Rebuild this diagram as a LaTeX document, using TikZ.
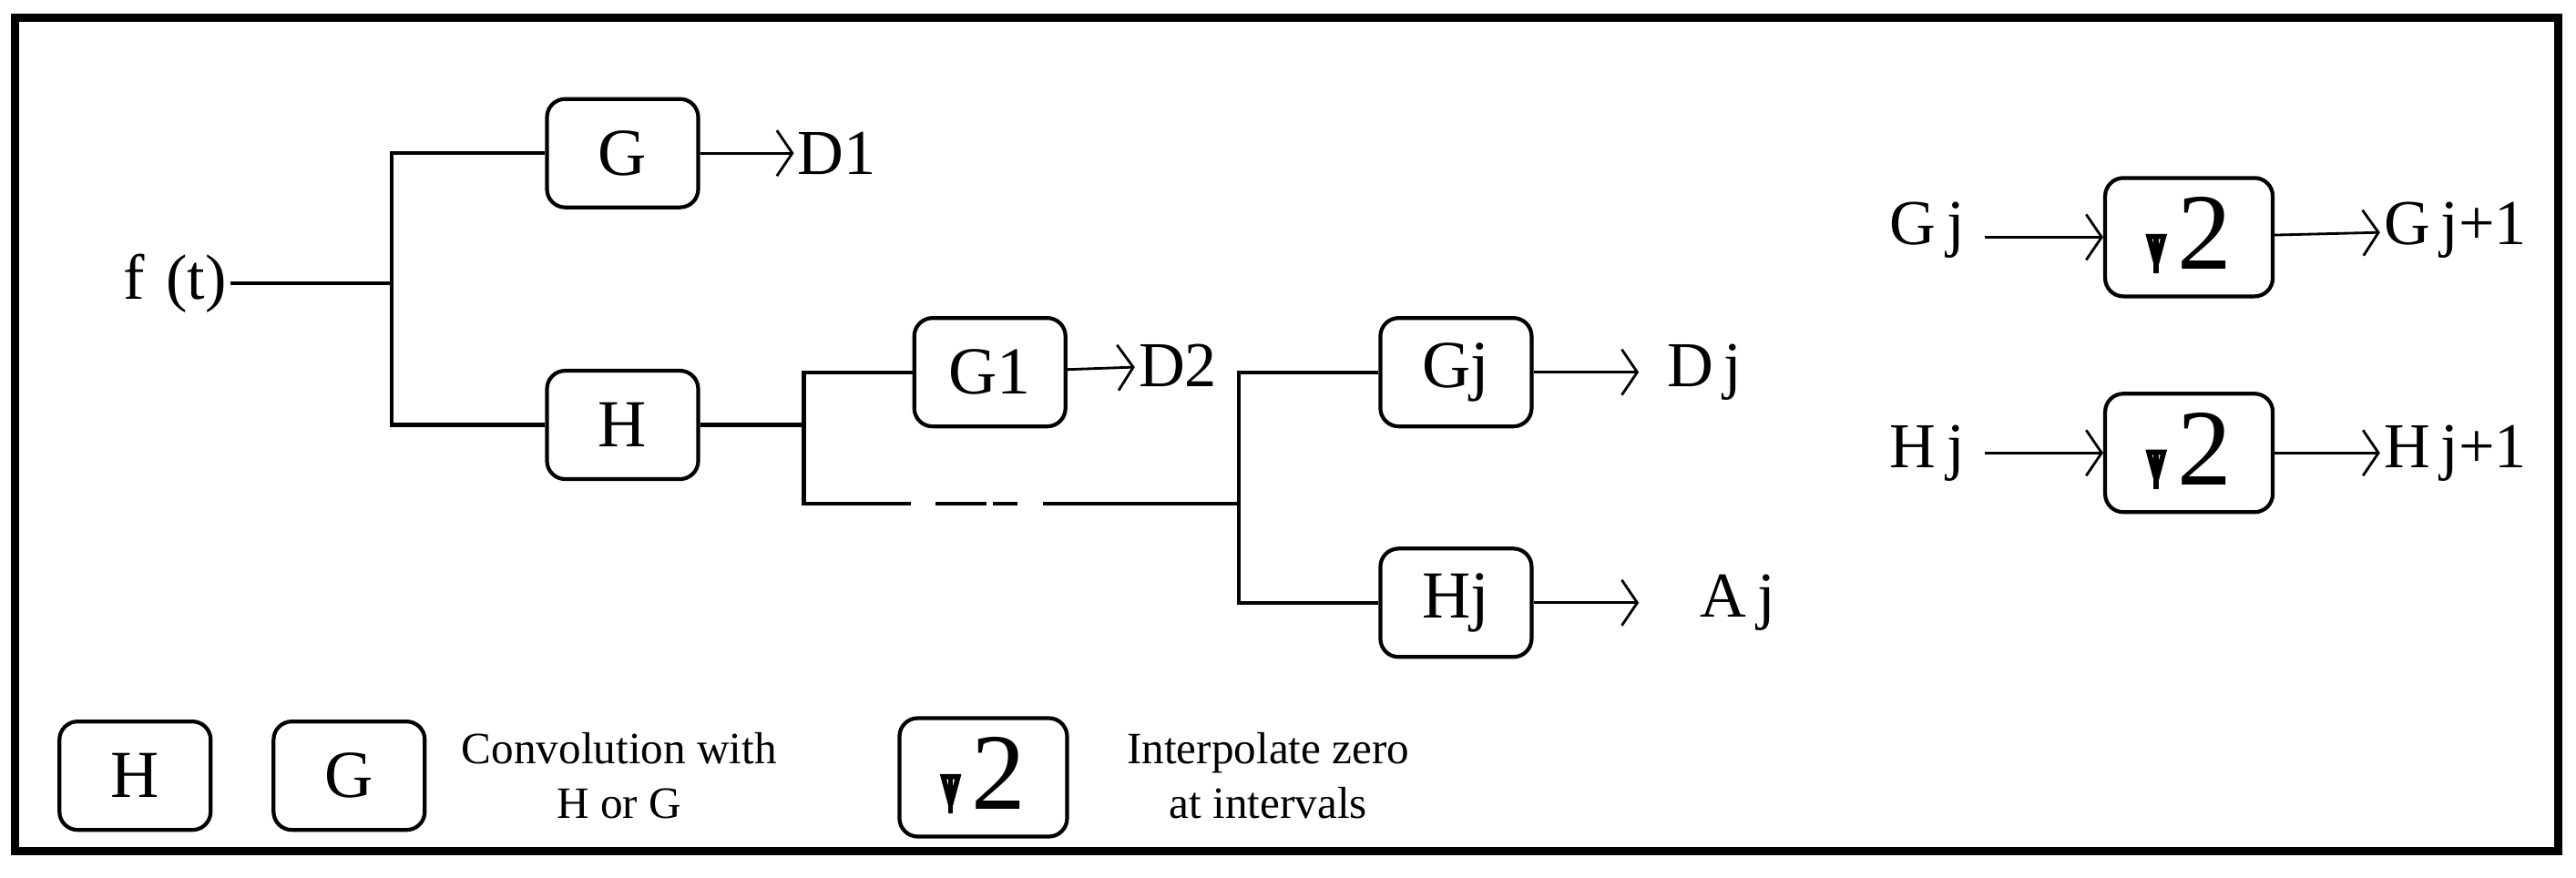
\documentclass[tikz,border=0pt]{standalone}
\usepackage{fontspec}
\setmainfont{Liberation Serif}
\usetikzlibrary{arrows.meta}
\tikzset{
  blk/.style={draw, line width=1.2pt, rounded corners=0.2cm, minimum width=1.66cm, minimum height=1.19cm, font=\fontsize{21}{24}\selectfont, inner sep=0pt},
  upblk/.style={blk, minimum width=1.84cm, minimum height=1.3cm},
  lbl/.style={font=\fontsize{20}{24}\selectfont, inner sep=1pt},
  note/.style={font=\fontsize{14}{17}\selectfont, align=center},
  wire/.style={line width=1.2pt},
  outarr/.style={line width=0.8pt, -{Straight Barb[length=0.17cm, width=0.5cm, line width=0.8pt]}}
}
\newcommand{\uparr}{\tikz[baseline=0.05cm]\draw[line width=1.6pt, -{Triangle[open, length=0.45cm, width=0.22cm, line width=1.6pt]}] (0,0) -- (0,0.85);}
\newcommand{\uptwo}{\uparr\hspace{0.12cm}{\fontsize{34}{36}\selectfont 2}}

\begin{document}
\begin{tikzpicture}[x=0.01808cm, y=-0.01808cm]

    % frame
    \useasboundingbox (0,0) rectangle (1564,533);
    \draw[line width=2.6pt] (9,11) rectangle (1553,517);

    % nodes
    \node[lbl, anchor=east] (f) at (140,172) {f\,\,(t)};
    \coordinate (s1) at (238,172);
    \node[blk] (g) at (378,93) {G};
    \node[blk] (h) at (378,258) {H};
    \node[lbl, anchor=west] (d1) at (482,93) {D1};
    \coordinate (s2) at (488,258);
    \node[blk] (g1) at (601,226) {G1};
    \node[lbl, anchor=west] (d2) at (689,222) {D2};
    \coordinate (s3) at (752,306);
    \node[blk] (gj) at (884,226) {Gj};
    \node[blk] (hj) at (884,366) {Hj};
    \node[lbl, anchor=west] (dj) at (1010,226) {D\,j};
    \node[lbl, anchor=west] (aj) at (1030,366) {A\,j};
    \coordinate (dje) at (995,226);
    \coordinate (aje) at (995,366);

    % upsampling
    \node[lbl] (gin) at (1170,140) {G\,j};
    \coordinate (gi) at (1205,144);
    \node[upblk] (upg) at (1329,144) {\uptwo};
    \node[lbl, anchor=west] (gout) at (1445,140) {G\,j+1};
    \node[lbl] (hin) at (1170,275) {H\,j};
    \coordinate (hi) at (1205,275);
    \node[upblk] (uph) at (1329,275) {\uptwo};
    \node[lbl, anchor=west] (hout) at (1445,275) {H\,j+1};

    % legend
    \node[blk] (lh) at (82,471) {H};
    \node[blk] (lg) at (212,471) {G};
    \node[note] (conv) at (376,471) {Convolution with\\H or G};
    \node[upblk] (lup) at (597,472) {\uptwo};
    \node[note] (intp) at (770,471) {Interpolate zero\\at intervals};

    % edges
    \draw[wire] (f) -- (s1);
    \draw[wire] (g.west) -| (s1) |- (h.west);
    \draw[outarr] (g) -- (d1);
    \draw[wire] (h) -- (s2);
    \draw[wire] (g1.west) -| (s2) |- (553,306);
    \draw[wire, dash pattern=on 16 off 2] (568,306) -- (618,306);
    \draw[wire] (633,306) -- (s3);
    \draw[outarr] (g1) -- (d2);
    \draw[wire] (gj.west) -| (s3) |- (hj.west);
    \draw[outarr] (gj) -- (dje);
    \draw[outarr] (hj) -- (aje);
    \draw[outarr] (gi) -- (upg.west);
    \draw[outarr] (upg) -- (gout);
    \draw[outarr] (hi) -- (uph.west);
    \draw[outarr] (uph) -- (hout);
\end{tikzpicture}
\end{document}
